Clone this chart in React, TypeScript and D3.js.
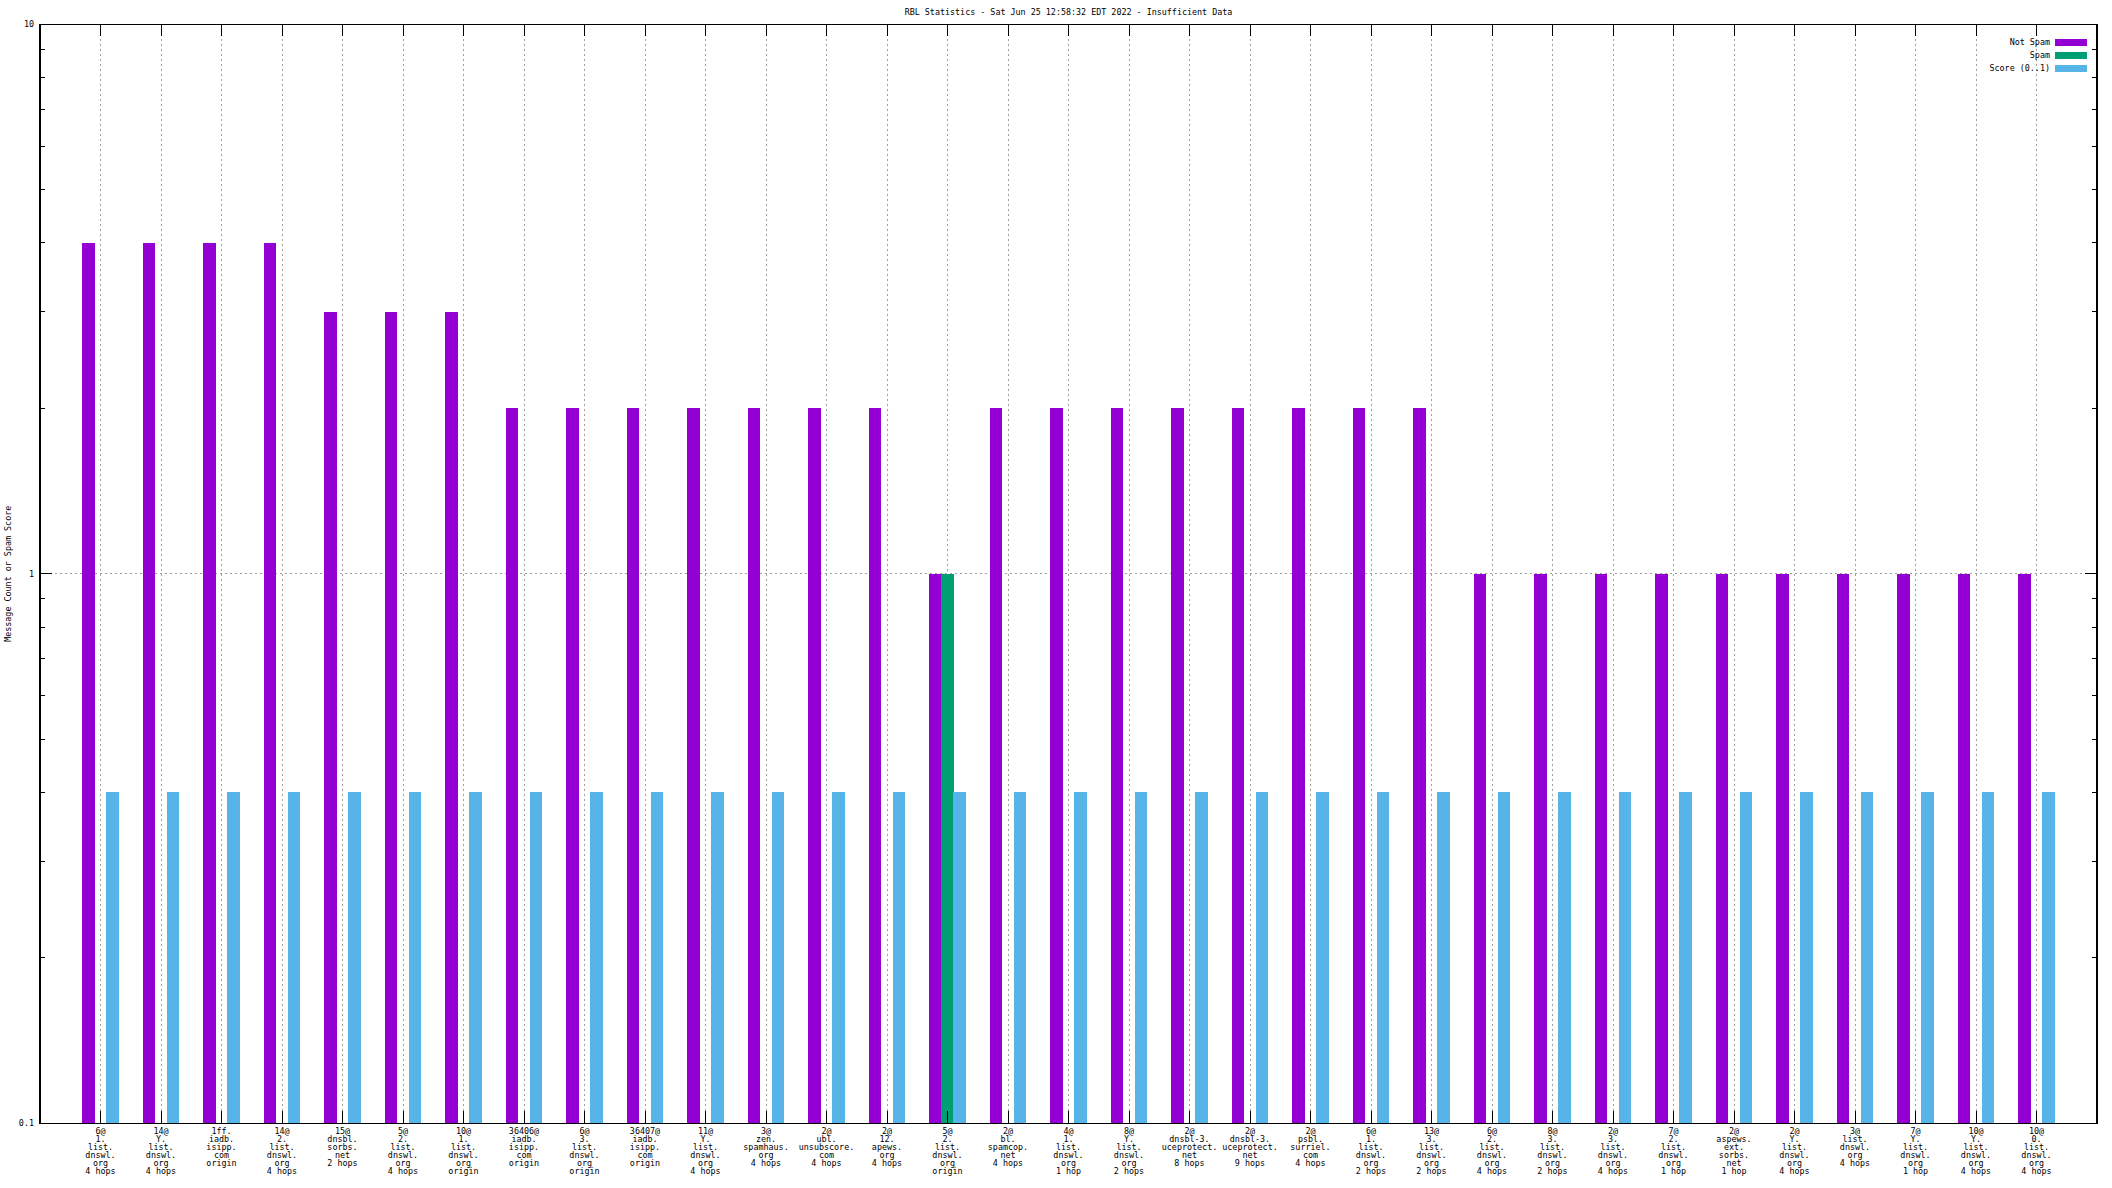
import React from "react";
import * as d3 from "d3";

const categories: string[][] = [
  ["6@", "1.", "list.", "dnswl.", "org", "4 hops"],
  ["14@", "Y.", "list.", "dnswl.", "org", "4 hops"],
  ["1ff.", "iadb.", "isipp.", "com", "origin"],
  ["14@", "2.", "list.", "dnswl.", "org", "4 hops"],
  ["15@", "dnsbl.", "sorbs.", "net", "2 hops"],
  ["5@", "2.", "list.", "dnswl.", "org", "4 hops"],
  ["10@", "1.", "list.", "dnswl.", "org", "origin"],
  ["36406@", "iadb.", "isipp.", "com", "origin"],
  ["6@", "3.", "list.", "dnswl.", "org", "origin"],
  ["36407@", "iadb.", "isipp.", "com", "origin"],
  ["11@", "Y.", "list.", "dnswl.", "org", "4 hops"],
  ["3@", "zen.", "spamhaus.", "org", "4 hops"],
  ["2@", "ubl.", "unsubscore.", "com", "4 hops"],
  ["2@", "12.", "apews.", "org", "4 hops"],
  ["5@", "2.", "list.", "dnswl.", "org", "origin"],
  ["2@", "bl.", "spamcop.", "net", "4 hops"],
  ["4@", "1.", "list.", "dnswl.", "org", "1 hop"],
  ["8@", "Y.", "list.", "dnswl.", "org", "2 hops"],
  ["2@", "dnsbl-3.", "uceprotect.", "net", "8 hops"],
  ["2@", "dnsbl-3.", "uceprotect.", "net", "9 hops"],
  ["2@", "psbl.", "surriel.", "com", "4 hops"],
  ["6@", "1.", "list.", "dnswl.", "org", "2 hops"],
  ["13@", "3.", "list.", "dnswl.", "org", "2 hops"],
  ["6@", "2.", "list.", "dnswl.", "org", "4 hops"],
  ["8@", "3.", "list.", "dnswl.", "org", "2 hops"],
  ["2@", "3.", "list.", "dnswl.", "org", "4 hops"],
  ["7@", "2.", "list.", "dnswl.", "org", "1 hop"],
  ["2@", "aspews.", "ext.", "sorbs.", "net", "1 hop"],
  ["2@", "Y.", "list.", "dnswl.", "org", "4 hops"],
  ["3@", "list.", "dnswl.", "org", "4 hops"],
  ["7@", "Y.", "list.", "dnswl.", "org", "1 hop"],
  ["10@", "Y.", "list.", "dnswl.", "org", "4 hops"],
  ["10@", "0.", "list.", "dnswl.", "org", "4 hops"],
];

const notSpam: number[] = [4, 4, 4, 4, 3, 3, 3, 2, 2, 2, 2, 2, 2, 2, 1, 2, 2, 2, 2, 2, 2, 2, 2, 1, 1, 1, 1, 1, 1, 1, 1, 1, 1];
const spam: number[] = [0, 0, 0, 0, 0, 0, 0, 0, 0, 0, 0, 0, 0, 0, 1, 0, 0, 0, 0, 0, 0, 0, 0, 0, 0, 0, 0, 0, 0, 0, 0, 0, 0];
const score: number[] = [0.4, 0.4, 0.4, 0.4, 0.4, 0.4, 0.4, 0.4, 0.4, 0.4, 0.4, 0.4, 0.4, 0.4, 0.4, 0.4, 0.4, 0.4, 0.4, 0.4, 0.4, 0.4, 0.4, 0.4, 0.4, 0.4, 0.4, 0.4, 0.4, 0.4, 0.4, 0.4, 0.4];

const seriesNames = ["Not Spam", "Spam", "Score (0..1)"];
const seriesColors = ["#9400d3", "#009e73", "#56b4e9"];
const yTickLabels = [0.1, 1, 10];
const title = "RBL Statistics - Sat Jun 25 12:58:32 EDT 2022 - Insufficient Data";
const yLabel = "Message Count or Spam Score";

const W = 2112;
const H = 1188;
const left = 40;
const right = 2097;
const top = 24.3;
const bottom = 1123.3;
const FONT = "'DejaVu Sans Mono', monospace";
const FS = 8.4;

export default function App() {
  const x = d3.scaleLinear().domain([-1, categories.length]).range([left, right]);
  const y = d3.scaleLog().domain([0.1, 10]).range([bottom, top]);
  const unit = x(1) - x(0);
  const bw = unit * 0.205;
  const series = [notSpam, spam, score];
  const offsets = [-0.2, 0, 0.2];

  const minor: number[] = [];
  [0.1, 1].forEach((d) => {
    for (let k = 2; k <= 9; k++) minor.push(d * k);
  });

  return (
    <svg
      width={W}
      height={H}
      style={{ position: "absolute", left: 0, top: 0, background: "#fff" }}
      fontFamily={FONT}
      fontSize={FS}
      fill="#000"
    >
      <rect x={0} y={0} width={W} height={H} fill="#fff" />
      {/* grid */}
      {categories.map((_, i) => (
        <line
          key={"gx" + i}
          x1={x(i)}
          x2={x(i)}
          y1={top}
          y2={bottom}
          stroke="#a0a0a0"
          strokeWidth={1}
          strokeDasharray="2,3"
          shapeRendering="crispEdges"
        />
      ))}
      <line x1={left} x2={right} y1={y(1)} y2={y(1)} stroke="#a0a0a0" strokeWidth={1} strokeDasharray="2,3" shapeRendering="crispEdges" />

      {/* bars */}
      {series.map((vals, s) =>
        vals.map((v, i) =>
          v > 0 ? (
            <rect
              key={"b" + s + "_" + i}
              x={x(i + offsets[s]) - bw / 2}
              width={bw}
              y={y(v)}
              height={bottom - y(v)}
              fill={seriesColors[s]}
              shapeRendering="crispEdges"
            />
          ) : null
        )
      )}

      {/* x ticks */}
      {categories.map((_, i) => (
        <g key={"tx" + i} shapeRendering="crispEdges">
          <line x1={x(i)} x2={x(i)} y1={bottom} y2={bottom - 12} stroke="#000" />
          <line x1={x(i)} x2={x(i)} y1={top} y2={top + 12} stroke="#000" />
        </g>
      ))}
      {/* y ticks */}
      {yTickLabels.map((t) => (
        <g key={"ty" + t}>
          <line x1={left} x2={left + 12} y1={y(t)} y2={y(t)} stroke="#000" shapeRendering="crispEdges" />
          <line x1={right} x2={right - 12} y1={y(t)} y2={y(t)} stroke="#000" shapeRendering="crispEdges" />
          <text x={34} y={y(t)} textAnchor="end" dominantBaseline="central">
            {String(t)}
          </text>
        </g>
      ))}
      {minor.map((t) => (
        <g key={"my" + t} shapeRendering="crispEdges">
          <line x1={left} x2={left + 5} y1={y(t)} y2={y(t)} stroke="#000" />
          <line x1={right} x2={right - 5} y1={y(t)} y2={y(t)} stroke="#000" />
        </g>
      ))}

      {/* border */}
      <rect x={left} y={top} width={right - left} height={bottom - top} fill="none" stroke="#000" strokeWidth={1.2} shapeRendering="crispEdges" />

      {/* category labels */}
      {categories.map((lines, i) => (
        <text key={"cl" + i} textAnchor="middle">
          {lines.map((ln, j) => (
            <tspan key={j} x={x(i)} y={1130.7 + j * 8.1} dominantBaseline="central">
              {ln}
            </tspan>
          ))}
        </text>
      ))}

      {/* title */}
      <text x={(left + right) / 2} y={12} textAnchor="middle" dominantBaseline="central">
        {title}
      </text>

      {/* y label */}
      <text
        transform={`translate(7.5,${(top + bottom) / 2}) rotate(-90)`}
        textAnchor="middle"
        dominantBaseline="central"
      >
        {yLabel}
      </text>

      {/* legend */}
      {seriesNames.map((name, s) => (
        <g key={"lg" + s}>
          <text x={2050} y={42.3 + s * 13} textAnchor="end" dominantBaseline="central">
            {name}
          </text>
          <rect x={2055} y={42.3 + s * 13 - 3.4} width={32} height={6.8} fill={seriesColors[s]} shapeRendering="crispEdges" />
        </g>
      ))}
    </svg>
  );
}
